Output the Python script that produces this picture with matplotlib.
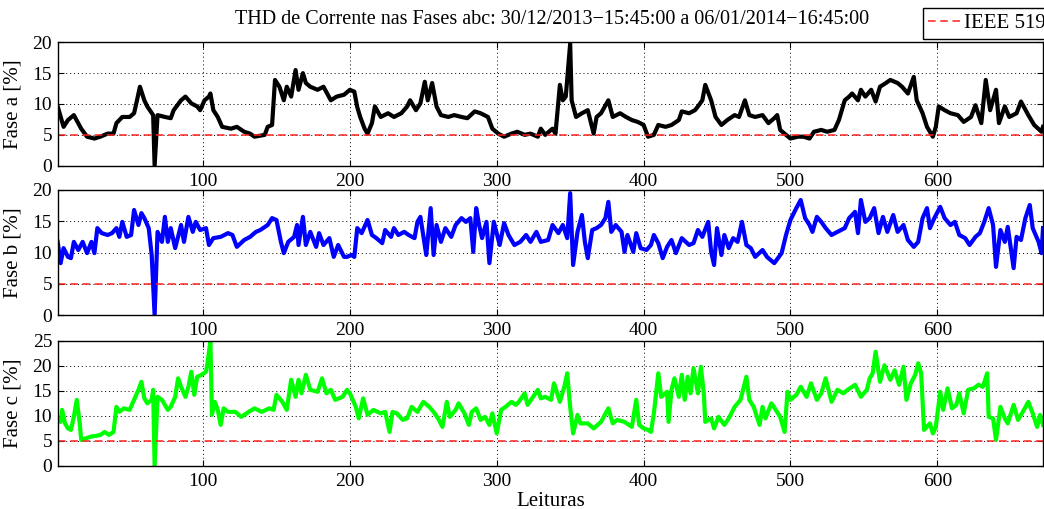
import matplotlib.pyplot as plt
import numpy as np

plt.rcParams['font.family'] = ['Liberation Serif', 'DejaVu Serif']

# leituras (indice) e THD [%]
leit_a = [1, 5, 8, 12, 17, 21, 26, 30, 35, 39, 41, 45, 50, 53, 55, 57, 60, 62, 66, 67,
          69, 74, 78, 80, 85, 88, 92, 96, 98, 101, 104, 105, 107, 110, 113, 119, 123, 128,
          132, 135, 142, 144, 147, 149, 152, 155, 157, 160, 163, 165, 168, 170, 173, 178,
          182, 187, 191, 196, 200, 203, 205, 207, 210, 212, 215, 217, 221, 226, 230, 235,
          239, 241, 245, 248, 251, 253, 256, 259, 262, 267, 271, 276, 280, 285, 289, 294,
          297, 301, 305, 310, 314, 319, 323, 328, 330, 333, 338, 340, 343, 345, 347, 350,
          351, 354, 358, 362, 366, 368, 371, 376, 379, 384, 388, 392, 396, 400, 403, 407,
          410, 415, 419, 424, 426, 431, 435, 437, 440, 442, 446, 449, 453, 457, 462, 465,
          469, 472, 476, 481, 485, 489, 491, 493, 497, 500, 505, 509, 513, 516, 521, 525,
          530, 533, 537, 540, 542, 546, 548, 551, 555, 558, 561, 565, 568, 573, 576, 580,
          584, 586, 590, 593, 597, 599, 601, 605, 609, 614, 618, 623, 626, 630, 633, 636,
          640, 642, 646, 649, 654, 657, 662, 666, 671, 672]
thd_a = [9.6, 6.3, 7.4, 8.2, 6.0, 4.7, 4.4, 4.7, 5.2, 5.2, 6.9, 7.9, 7.9, 8.5, 10.6, 12.8,
         10.6, 9.6, 8.2, 0.0, 8.2, 7.9, 7.7, 9.0, 10.6, 11.2, 10.1, 9.6, 9.0, 10.6, 11.2,
         11.7, 9.0, 7.9, 6.3, 6.0, 6.3, 5.5, 5.2, 4.7, 5.0, 6.3, 6.6, 13.9, 12.8, 10.6,
         12.8, 11.2, 15.5, 12.3, 15.0, 13.4, 12.8, 12.3, 12.8, 10.6, 11.2, 11.5, 12.3,
         12.0, 9.5, 7.9, 6.0, 5.2, 6.9, 9.6, 7.9, 8.5, 7.9, 8.5, 9.6, 10.6, 9.0, 10.1,
         13.6, 10.6, 13.4, 9.6, 8.2, 7.9, 8.2, 7.9, 7.7, 8.8, 8.5, 7.9, 6.0, 5.2, 4.7,
         5.2, 5.5, 5.0, 5.2, 4.7, 6.0, 5.0, 6.0, 5.2, 13.1, 10.6, 11.2, 19.8, 10.6, 7.9,
         8.5, 9.0, 5.2, 7.9, 8.5, 10.6, 7.9, 8.5, 7.9, 7.4, 7.1, 6.6, 4.7, 5.0, 6.6, 6.3,
         6.6, 7.4, 8.8, 8.5, 9.0, 9.6, 10.6, 13.1, 10.6, 7.9, 6.6, 7.4, 8.2, 7.9, 10.6,
         8.2, 7.9, 8.2, 6.9, 7.7, 8.2, 5.8, 5.0, 4.4, 4.7, 4.7, 4.4, 5.5, 5.8, 5.5, 5.8,
         7.4, 10.6, 11.2, 11.7, 10.6, 12.3, 11.2, 12.3, 10.4, 12.8, 13.4, 13.9, 13.4,
         12.8, 11.7, 14.4, 10.6, 8.5, 6.3, 4.7, 6.3, 9.6, 9.0, 8.5, 8.2, 7.1, 7.9, 9.8,
         6.9, 13.9, 9.0, 12.3, 6.9, 9.6, 7.9, 8.5, 10.4, 8.2, 6.6, 5.5, 6.3]

leit_b = [1, 3, 5, 8, 10, 12, 15, 18, 21, 24, 26, 28, 31, 35, 38, 41, 43, 45, 48, 51, 53,
          56, 58, 60, 63, 65, 67, 69, 72, 74, 76, 78, 81, 85, 87, 90, 93, 95, 98, 102, 104,
          107, 112, 117, 120, 123, 128, 132, 136, 139, 144, 147, 150, 153, 155, 158, 162,
          164, 165, 168, 170, 173, 177, 179, 182, 186, 189, 192, 196, 198, 201, 203, 205,
          208, 212, 215, 218, 222, 224, 228, 230, 233, 237, 240, 244, 246, 248, 251, 252,
          255, 257, 259, 262, 265, 269, 272, 276, 279, 282, 284, 286, 288, 290, 293, 295,
          298, 302, 305, 308, 312, 316, 320, 323, 327, 330, 335, 338, 342, 345, 348, 350,
          352, 355, 358, 360, 362, 365, 368, 371, 374, 376, 378, 381, 385, 387, 389, 393,
          395, 398, 402, 405, 407, 410, 413, 416, 419, 422, 426, 431, 434, 437, 440, 444,
          446, 448, 450, 453, 455, 458, 461, 464, 467, 470, 473, 476, 481, 484, 489, 494,
          497, 500, 504, 507, 510, 513, 515, 518, 521, 524, 528, 532, 537, 540, 544, 546,
          548, 551, 554, 557, 560, 563, 566, 570, 573, 577, 580, 584, 587, 590, 593, 595,
          598, 602, 605, 609, 612, 615, 619, 622, 626, 629, 632, 635, 638, 640, 643, 646,
          648, 652, 654, 657, 660, 663, 665, 669, 671, 672]
thd_b = [11.7, 8.3, 10.7, 9.3, 9.1, 11.7, 10.4, 11.7, 9.9, 11.7, 9.9, 13.9, 13.1, 12.8,
         13.1, 13.9, 12.5, 14.9, 12.5, 12.8, 16.8, 14.4, 16.3, 15.5, 13.9, 9.6, 0.0, 13.3,
         11.7, 15.7, 11.7, 13.9, 10.7, 14.4, 11.7, 15.7, 13.3, 14.9, 13.6, 13.9, 11.2,
         12.3, 12.5, 13.1, 12.8, 10.9, 12.0, 12.5, 13.3, 13.6, 14.4, 15.5, 15.2, 11.7,
         9.9, 11.7, 12.5, 14.4, 11.2, 15.7, 11.2, 13.3, 10.9, 13.1, 11.2, 12.3, 9.3, 11.2,
         9.3, 9.3, 9.6, 9.3, 13.9, 13.1, 15.2, 12.8, 12.3, 11.5, 13.6, 12.5, 13.9, 12.8,
         13.3, 12.8, 12.3, 14.9, 15.7, 11.2, 9.6, 17.1, 9.6, 14.4, 11.7, 13.9, 12.5, 14.4,
         15.5, 14.9, 15.5, 10.1, 17.1, 14.4, 12.3, 14.9, 8.3, 14.9, 11.2, 14.7, 12.8, 11.2,
         11.7, 12.8, 11.7, 13.3, 11.7, 12.0, 14.4, 13.1, 14.4, 12.3, 19.5, 8.0, 13.3, 16.0,
         11.7, 9.1, 13.6, 13.9, 14.4, 15.5, 18.1, 13.3, 14.4, 13.3, 10.1, 12.8, 10.1, 13.1,
         10.7, 10.4, 11.2, 12.8, 11.5, 9.1, 10.9, 12.0, 9.9, 12.3, 11.2, 11.5, 13.6, 12.5,
         14.9, 10.1, 8.0, 13.9, 9.6, 12.8, 10.7, 12.3, 11.7, 14.9, 11.2, 10.7, 9.3, 10.4,
         9.3, 8.3, 9.9, 12.8, 15.2, 17.1, 18.4, 15.5, 14.4, 13.3, 15.7, 14.9, 13.9, 12.8,
         13.3, 13.9, 15.5, 16.5, 13.1, 18.4, 14.9, 15.5, 17.1, 13.1, 15.7, 13.3, 16.0,
         13.3, 14.4, 12.0, 10.9, 11.7, 15.5, 17.1, 13.9, 15.5, 17.3, 15.5, 14.4, 14.9,
         12.8, 12.3, 11.2, 12.5, 13.1, 14.9, 17.1, 14.4, 7.7, 13.6, 11.7, 14.1, 7.5, 12.5,
         12.0, 15.5, 17.6, 13.9, 11.7, 9.9, 13.9]

leit_c = [1, 3, 4, 6, 8, 10, 12, 14, 16, 17, 20, 24, 27, 30, 33, 36, 39, 41, 43, 46, 50,
          53, 56, 58, 60, 62, 65, 66, 67, 69, 72, 74, 76, 78, 81, 83, 85, 88, 90, 92, 94,
          96, 99, 102, 103, 105, 106, 108, 110, 112, 114, 117, 122, 126, 131, 135, 140,
          145, 148, 150, 154, 157, 160, 163, 165, 167, 170, 173, 178, 181, 184, 187, 190,
          195, 198, 200, 204, 206, 209, 212, 216, 221, 224, 227, 229, 232, 236, 239, 242,
          246, 250, 254, 257, 260, 263, 266, 268, 272, 274, 278, 281, 283, 286, 289, 292,
          295, 297, 300, 303, 306, 310, 313, 315, 319, 321, 324, 328, 330, 333, 337, 339,
          343, 346, 348, 350, 352, 355, 357, 362, 366, 371, 376, 379, 382, 387, 392, 395,
          397, 400, 403, 405, 407, 410, 412, 416, 417, 419, 421, 424, 426, 428, 430, 432,
          434, 437, 439, 441, 442, 446, 448, 451, 455, 458, 462, 466, 470, 472, 475, 479,
          481, 483, 487, 490, 493, 496, 498, 500, 504, 507, 511, 514, 518, 521, 524, 528,
          532, 536, 539, 544, 548, 552, 554, 556, 558, 561, 564, 568, 571, 574, 577, 579,
          582, 585, 587, 589, 591, 595, 597, 599, 602, 604, 607, 610, 613, 615, 618, 621,
          625, 628, 631, 634, 635, 638, 640, 643, 646, 648, 652, 655, 659, 662, 665, 668,
          670, 672]
thd_c = [9.2, 8.8, 11.2, 8.5, 7.5, 7.2, 9.8, 13.2, 8.5, 5.2, 5.5, 5.9, 6.0, 6.2, 6.8, 6.2,
         6.8, 11.8, 10.8, 11.5, 11.2, 13.2, 15.2, 16.8, 13.5, 12.5, 13.2, 15.2, 0.0, 13.8,
         13.2, 12.2, 11.2, 11.8, 13.8, 17.5, 15.8, 13.8, 15.8, 18.8, 14.2, 17.8, 18.2,
         18.8, 20.5, 25.0, 10.2, 12.8, 11.2, 8.2, 11.5, 10.8, 10.8, 9.8, 10.8, 11.5, 10.8,
         11.5, 11.2, 14.2, 12.8, 11.2, 17.2, 13.8, 17.2, 14.5, 18.2, 15.2, 14.8, 17.5,
         14.5, 15.2, 13.2, 13.8, 15.2, 14.5, 11.8, 9.5, 13.5, 10.2, 11.2, 10.5, 10.8, 6.8,
         10.8, 10.5, 9.2, 9.5, 11.8, 10.8, 12.8, 11.8, 10.8, 9.5, 7.8, 12.8, 9.8, 11.2,
         12.5, 10.5, 8.2, 10.8, 11.5, 9.2, 9.8, 8.2, 10.5, 6.5, 11.2, 11.8, 12.8, 12.2,
         12.8, 14.5, 12.2, 13.5, 15.2, 13.5, 13.8, 13.2, 16.5, 12.8, 15.8, 18.5, 11.8, 6.5,
         10.2, 8.5, 8.5, 7.5, 8.8, 11.5, 8.5, 9.2, 8.8, 7.8, 13.2, 8.2, 7.5, 7.2, 6.8,
         10.5, 18.5, 13.8, 14.8, 8.8, 15.2, 17.5, 13.8, 18.2, 13.2, 17.8, 14.5, 19.5, 14.5,
         19.8, 14.5, 8.8, 9.5, 7.5, 9.8, 8.2, 9.5, 11.8, 13.2, 17.8, 13.2, 11.8, 8.2, 11.8,
         9.5, 12.5, 11.2, 9.8, 6.8, 14.8, 13.2, 14.2, 15.8, 13.8, 16.5, 13.2, 14.5, 17.5,
         12.8, 15.2, 14.5, 15.2, 16.2, 13.8, 15.2, 17.5, 18.5, 22.8, 16.8, 20.1, 17.2,
         19.1, 16.2, 19.8, 13.2, 16.5, 18.2, 20.5, 18.5, 7.2, 8.5, 6.5, 7.8, 14.8, 11.2,
         15.5, 11.5, 12.2, 14.5, 10.5, 15.2, 15.5, 16.2, 15.8, 18.5, 9.8, 9.5, 5.2, 11.8,
         9.5, 8.5, 12.2, 9.2, 11.2, 12.8, 10.5, 7.8, 10.2, 8.2]

limite_ieee = 5.0
fases = ['Fase a [%]', 'Fase b [%]', 'Fase c [%]']
cores = ['k', 'b', '#00ff00']
ymax = [20, 20, 25]

W, H = 1044, 509
fig = plt.figure(figsize=(W / 100, H / 100), dpi=100)

# posicoes dos eixos em pixels (topo, base)
caixas = [(42.3, 165.7), (190.0, 315.0), (340.7, 466.0)]
x0, x1 = 57.7, 1043.0

dados = [(leit_a, thd_a), (leit_b, thd_b), (leit_c, thd_c)]
eixos = []
for i, (topo, base) in enumerate(caixas):
    ax = fig.add_axes([x0 / W, 1 - base / H, (x1 - x0) / W, (base - topo) / H])
    x, y = dados[i]
    ax.plot(x, y, color=cores[i], lw=3.0, solid_joinstyle='round')
    lim, = ax.plot([1, 672], [limite_ieee, limite_ieee], '--', color='#ff2020', lw=1.1,
                   dashes=(5, 3))
    ax.set_xlim(1, 672)
    ax.set_ylim(0, ymax[i])
    ax.set_xticks([100, 200, 300, 400, 500, 600])
    ax.set_yticks(np.arange(0, ymax[i] + 1, 5))
    ax.grid(True, color='k', ls=(0, (1, 3)), lw=0.7)
    ax.set_axisbelow(True)
    ax.tick_params(direction='in', top=True, right=True, length=4, width=0.8,
                   labelsize=14, pad=4)
    ax.tick_params(axis='x', pad=5)
    for s in ax.spines.values():
        s.set_linewidth(1.0)
    ax.set_ylabel(fases[i], fontsize=15)
    ax.yaxis.set_label_coords(-0.036, 0.5)
    eixos.append(ax)

eixos[2].set_xlabel('Leituras', fontsize=15)
eixos[2].xaxis.set_label_coords(0.5, -0.205)

fig.text(0.529, 1 - 19 / H,
         'THD de Corrente nas Fases abc: 30/12/2013\u221215:45:00 a 06/01/2014\u221216:45:00',
         ha='center', va='center', fontsize=14.5)

fig.legend([lim], ['IEEE 519'], loc='upper left', bbox_to_anchor=(922.5 / W, 1 - 8 / H),
           fontsize=15, frameon=True, fancybox=False, edgecolor='k', framealpha=1,
           handlelength=1.6, handletextpad=0.1, borderpad=0.28, borderaxespad=0)

plt.savefig('out.png', dpi=100)
